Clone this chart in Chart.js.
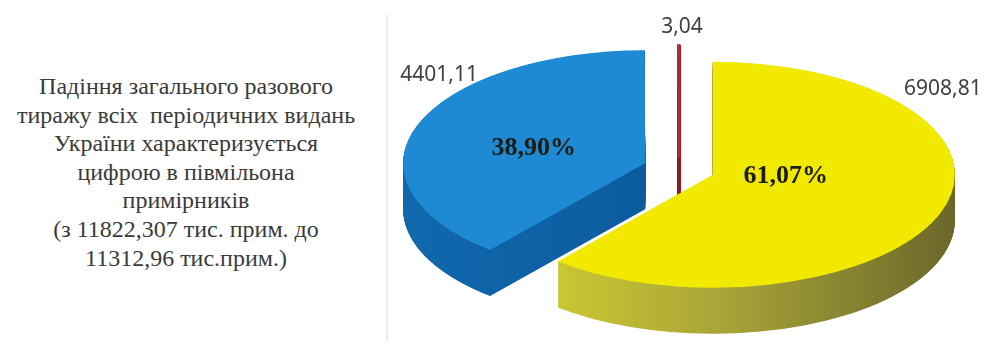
<!DOCTYPE html>
<html>
<head>
<meta charset="utf-8">
<script src="https://cdn.jsdelivr.net/npm/chart.js@4.4.1/dist/chart.umd.min.js"></script>
<style>
  html, body { margin: 0; padding: 0; background: #ffffff; }
  #wrap { position: relative; width: 992px; height: 347px; overflow: hidden; background: #fff; }
  #chart { position: absolute; left: 0; top: 0; }
  #note {
    position: absolute; left: 0; top: 72px; width: 372px;
    text-align: center; white-space: nowrap;
    font-family: "Liberation Serif", "Times New Roman", serif;
    font-size: 24px; line-height: 28.6px; color: #3a3a3a;
  }
  #rule { position: absolute; left: 386px; top: 15px; width: 2px; height: 326px; background: #ececec; }
</style>
</head>
<body>
<div id="wrap">
  <div id="note">Падіння загального разового<br>тиражу всіх&nbsp; періодичних видань<br>України характеризується<br>цифрою в півмільона<br>примірників<br>(з 11822,307 тис. прим. до<br>11312,96 тис.прим.)</div>
  <div id="rule"></div>
  <canvas id="chart" width="992" height="347"></canvas>
</div>
<script>
// ---- data ----
const categories = ['Сегмент 1', 'Сегмент 2', 'Сегмент 3'];
const values = [6908.81, 4401.11, 3.04];
const valueLabels = ['6908,81', '4401,11', '3,04'];

// ---- styles ----
const topColors = ['#F1E900', '#1D8AD3', '#C3232B'];
const sideColors = ['#A09C36', '#0E61A4', '#8E1A20'];
const borderWidths = [0, 0, 3];
const explode = [36, 36, 24];
const pctFactor = [0.32, 0.49, 0];
const pctShiftY = [-11, 4, 0];
const valueOffsets = [[230, -86], [-206, -88], [3, -131]];

const RADIUS = 242;      // radius of the pie (before flattening)
const TILT = 113 / 242;  // vertical flattening
const DEPTH = 46;        // thickness in screen pixels

function pieCenter(chart) {
  const ca = chart.chartArea;
  return { cx: (ca.left + ca.right) / 2, cy: (ca.top + ca.bottom) / 2 };
}

const pie3d = {
  id: 'pie3d',
  afterDatasetUpdate(chart, args) {
    const meta = chart.getDatasetMeta(args.index);
    meta.data.forEach((el, i) => {
      const mid = (el.startAngle + el.endAngle) / 2;
      el.x = el.x + Math.cos(mid) * explode[i];
      el.y = el.y + Math.sin(mid) * explode[i];
    });
  },
  beforeDatasetsDraw(chart) {
    const ctx = chart.ctx;
    const { cx, cy } = pieCenter(chart);
    ctx.save();
    ctx.translate(cx, cy);
    ctx.scale(1, TILT);
    ctx.translate(-cx, -cy);
    const meta = chart.getDatasetMeta(0);
    const order = [1, 2, 0];
    order.forEach(i => {
      const el = meta.data[i];
      if (!el) return;
      const r = el.outerRadius;
      let fill = sideColors[i];
      if (i === 0) {
        const g = ctx.createLinearGradient(el.x - r * 0.7, 0, el.x + r, 0);
        g.addColorStop(0, '#CDCA32');
        g.addColorStop(0.45, '#A7A338');
        g.addColorStop(1, '#6B672A');
        fill = g;
      }
      if (i === 1) {
        const g = ctx.createLinearGradient(el.x - r, 0, el.x, 0);
        g.addColorStop(0, '#1168AD');
        g.addColorStop(1, '#0B5C9E');
        fill = g;
      }
      ctx.fillStyle = fill;
      ctx.strokeStyle = fill;
      for (let d = DEPTH; d >= 0.5; d -= 0.5) {
        const yy = el.y + d / TILT;
        ctx.beginPath();
        ctx.moveTo(el.x, yy);
        ctx.arc(el.x, yy, r, el.startAngle, el.endAngle);
        ctx.closePath();
        ctx.fill();
        if (borderWidths[i] > 0) { ctx.lineWidth = borderWidths[i]; ctx.stroke(); }
      }
    });
  },
  afterDatasetsDraw(chart) {
    const ctx = chart.ctx;
    ctx.restore();
    const { cx, cy } = pieCenter(chart);
    const meta = chart.getDatasetMeta(0);
    const total = values.reduce((a, b) => a + b, 0);
    meta.data.forEach((el, i) => {
      const sx = el.x;
      const sy = cy + (el.y - cy) * TILT;
      const mid = (el.startAngle + el.endAngle) / 2;
      ctx.save();
      ctx.font = '21px "Noto Sans", "Open Sans", sans-serif';
      ctx.fillStyle = '#404040';
      ctx.textAlign = 'center';
      ctx.textBaseline = 'middle';
      ctx.fillText(valueLabels[i], sx + valueOffsets[i][0], sy + valueOffsets[i][1]);
      if (pctFactor[i] > 0) {
        const pct = (values[i] / total * 100).toFixed(2).replace('.', ',') + '%';
        const px = sx + Math.cos(mid) * pctFactor[i] * RADIUS;
        const py = sy + Math.sin(mid) * pctFactor[i] * RADIUS * TILT + pctShiftY[i];
        ctx.font = 'bold 26px "Liberation Serif", "Times New Roman", serif';
        ctx.fillStyle = '#1c1c10';
        ctx.fillText(pct, px, py);
      }
      ctx.restore();
    });
  }
};

new Chart(document.getElementById('chart'), {
  type: 'pie',
  data: {
    labels: categories,
    datasets: [{
      data: values,
      backgroundColor: topColors,
      borderColor: topColors,
      borderWidth: borderWidths,
      radius: RADIUS,
      clip: false
    }]
  },
  options: {
    responsive: false,
    animation: false,
    radius: RADIUS,
    layout: { padding: { left: 366, right: 0, top: 0, bottom: 9 } },
    plugins: { legend: { display: false }, tooltip: { enabled: false } }
  },
  plugins: [pie3d]
});
</script>
</body>
</html>
